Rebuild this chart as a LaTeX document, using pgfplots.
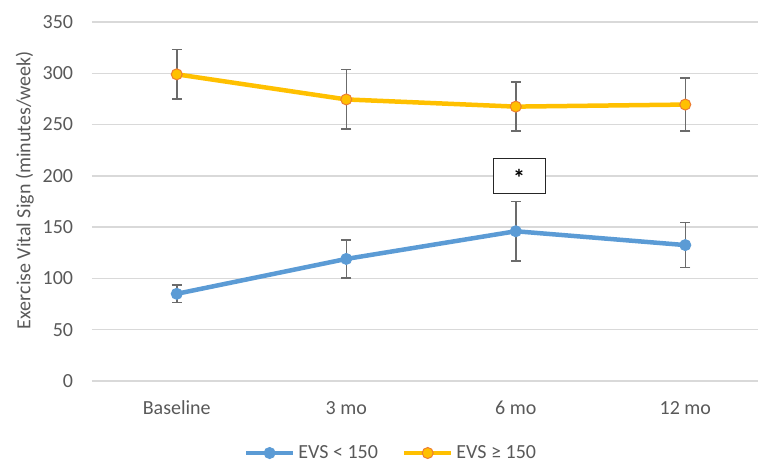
\documentclass[border=0pt]{standalone}
\usepackage{pgfplots}
\pgfplotsset{compat=1.18}
\usepackage{fontspec}
\setmainfont{Carlito}
\definecolor{evsblue}{HTML}{5B9BD5}
\definecolor{evsgold}{HTML}{FFC000}
\definecolor{evsorange}{HTML}{ED7D31}
\definecolor{txtgray}{HTML}{595959}
\definecolor{gridgray}{HTML}{D9D9D9}
\definecolor{errgray}{HTML}{6B6B6B}
\newcommand{\chartfont}{\fontsize{20bp}{24bp}\selectfont}
\begin{document}
\begin{tikzpicture}
\path[use as bounding box] (-92bp,-80bp) rectangle (666bp,381bp);
\begin{axis}[
  scale only axis, width=666bp, height=359bp,
  xmin=-0.5, xmax=3.429, ymin=0, ymax=350,
  clip=false,
  /pgf/number format/assume math mode=true,
  xtick={0,1,2,3}, xticklabels={Baseline,3 mo,6 mo,12 mo},
  ytick={0,50,...,350},
  axis line style={draw=none},
  major tick length=0pt,
  ymajorgrids, grid style={gridgray, line width=1.3bp},
  tick label style={font=\chartfont, text=txtgray},
  yticklabel style={anchor=east, inner sep=0pt, xshift=-18.7bp},
  xticklabel style={anchor=base, inner sep=0pt, yshift=-33bp},
  ylabel={Exercise Vital Sign (minutes/week)},
  ylabel style={font=\chartfont, text=txtgray, at={(axis description cs:-0.101,0.532)}, anchor=center},
  legend style={at={(axis description cs:0.4474,-0.2006)}, anchor=center, draw=none, fill=none,
    font=\chartfont, text=txtgray, nodes={inner sep=0pt},
    /tikz/every odd column/.append style={column sep=3bp},
    /tikz/every even column/.append style={column sep=24bp}},
  legend columns=2,
  legend image code/.code={\draw[mark repeat=2,mark phase=2,#1] plot coordinates {(0bp,0bp) (23.5bp,0bp) (47bp,0bp)};},
]
\addplot[evsblue, line width=4.5bp, mark=*, mark size=5.5bp,
  mark options={fill=evsblue, draw=evsblue, line width=1bp},
  error bars/.cd, y dir=both, y explicit,
  error bar style={errgray, line width=1.5bp},
  error mark options={errgray, line width=1.5bp, mark size=5bp, rotate=90}]
  coordinates {(0,85) +- (0,8.5) (1,119) +- (0,18.5) (2,146) +- (0,29) (3,132.5) +- (0,22)};
\addlegendentry{EVS < 150}
\addplot[evsgold, line width=4.5bp, mark=*, mark size=5.5bp,
  mark options={fill=evsgold, draw=evsorange, line width=1bp},
  error bars/.cd, y dir=both, y explicit,
  error bar style={errgray, line width=1.5bp},
  error mark options={errgray, line width=1.5bp, mark size=5bp, rotate=90}]
  coordinates {(0,299) +- (0,24.3) (1,274.5) +- (0,29) (2,267.5) +- (0,24) (3,269.5) +- (0,26)};
\addlegendentry{EVS ≥ 150}
\node[draw=black!85, line width=1bp, fill=white, minimum width=51.7bp, minimum height=35bp, inner sep=0pt] at (axis cs:2.02,200) {};
\node[font=\fontsize{24bp}{28bp}\selectfont\bfseries, inner sep=0pt, text=black] at (axis cs:2.02,197.6) {*};
\end{axis}
\end{tikzpicture}
\end{document}
